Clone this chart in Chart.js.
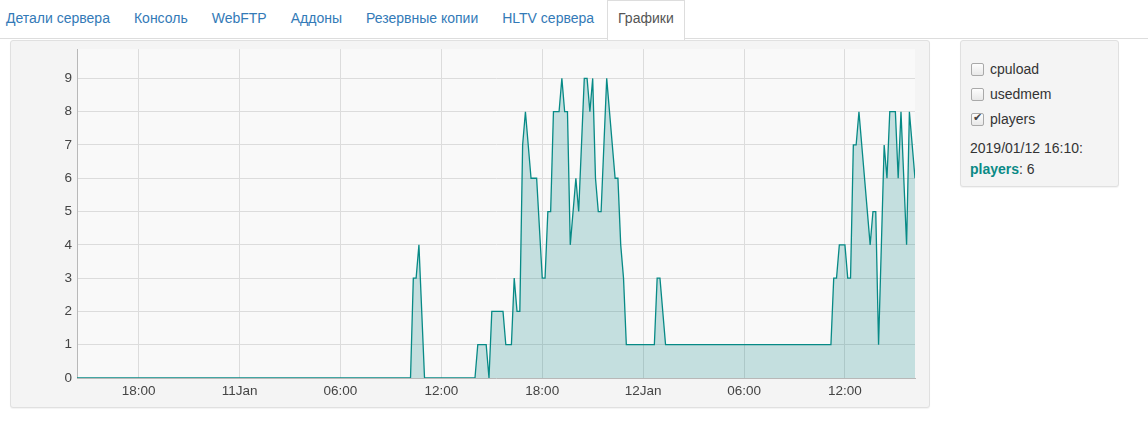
<!DOCTYPE html>
<html>
<head>
<meta charset="UTF-8"/>
<title>Графики</title>
<script src="https://cdn.jsdelivr.net/npm/chart.js@4/dist/chart.umd.min.js"></script>
<style>
 body {
   margin: 0;
   background: #fff;
   font-family: "Liberation Sans", Arial, sans-serif;
   font-size: 14px;
   color: #333;
   width: 1148px;
   height: 441px;
   position: relative;
   overflow: hidden;
 }
 ul.tabs {
   position: absolute;
   left: -5px; top: 0; right: 0;
   margin: 0; padding: 0;
   list-style: none;
   display: flex;
   height: 38px;
   border-bottom: 1px solid #ddd;
 }
 ul.tabs li {
   margin-right: 2px;
   padding: 7px 10px 11px 10px;
   line-height: 20px;
   color: #337ab7;
   border: 1px solid transparent;
   border-bottom: none;
   white-space: nowrap;
 }
 ul.tabs li.active {
   color: #555;
   background: #fff;
   border-color: #ddd;
   height: 20px;
   margin-bottom: -1px;
   padding-bottom: 12px;
 }
 div.panel {
   position: absolute;
   background: #f4f4f4;
   border: 1px solid #e0e0e0;
   border-radius: 3px;
   box-shadow: 0 1px 1px rgba(0,0,0,0.05);
 }
 #graph { left: 10px; top: 40px; width: 918px; height: 366px; }
 #legend { left: 960px; top: 40px; width: 157px; height: 145px; }
 #chart-wrap {
   position: absolute;
   left: 10px; top: 36px;
   width: 920px; height: 372px;
 }
 #legend label {
   position: absolute;
   left: 10px;
   line-height: 20px;
 }
 #legend input {
   -webkit-appearance: none;
   appearance: none;
   width: 13px; height: 13px;
   margin: 0 6px 0 0;
   vertical-align: -2px;
   border: 1px solid #a9a9a9;
   border-radius: 2px;
   background: linear-gradient(#fdfdfd, #e8e8e8);
   position: relative;
 }
 #legend input:checked::after {
   content: "\2714";
   position: absolute;
   left: 1px; top: -3px;
   font-size: 11px;
   color: #444;
 }
 #legend .info {
   position: absolute;
   left: 9px; top: 97px;
   line-height: 21px;
 }
 #legend .info b { color: #0a8a86; }
</style>
</head>
<body>
<ul class="tabs">
  <li>Детали сервера</li>
  <li>Консоль</li>
  <li>WebFTP</li>
  <li>Аддоны</li>
  <li>Резервные копии</li>
  <li>HLTV сервера</li>
  <li class="active">Графики</li>
</ul>

<div class="panel" id="graph"></div>
<div id="chart-wrap"><canvas id="chart-players"></canvas></div>

<div class="panel" id="legend">
  <label style="top:18px"><input type="checkbox"/>cpuload</label>
  <label style="top:43px"><input type="checkbox"/>usedmem</label>
  <label style="top:68px"><input type="checkbox" checked/>players</label>
  <div class="info">2019/01/12 16:10:<br/><b>players</b>: 6</div>
</div>

<script>
 // samples (MM/DD HH:MM), only the points where the line bends
 var times = [
     "01/10 14:20", "01/11 10:10", "01/11 10:20", "01/11 10:30", "01/11 10:40",
     "01/11 11:00", "01/11 14:00", "01/11 14:10", "01/11 14:40", "01/11 14:50",
     "01/11 15:00", "01/11 15:40", "01/11 15:50", "01/11 16:10", "01/11 16:20",
     "01/11 16:30", "01/11 16:40", "01/11 16:50", "01/11 17:00", "01/11 17:20",
     "01/11 17:40", "01/11 18:00", "01/11 18:10", "01/11 18:20", "01/11 18:30",
     "01/11 18:40", "01/11 19:00", "01/11 19:10", "01/11 19:20", "01/11 19:30",
     "01/11 19:40", "01/11 20:00", "01/11 20:10", "01/11 20:30", "01/11 20:40",
     "01/11 20:50", "01/11 21:00", "01/11 21:10", "01/11 21:20", "01/11 21:30",
     "01/11 21:50", "01/11 22:20", "01/11 22:30", "01/11 22:40", "01/11 22:50",
     "01/11 23:00", "01/12 00:40", "01/12 00:50", "01/12 01:00", "01/12 01:20",
     "01/12 11:10", "01/12 11:20", "01/12 11:30", "01/12 11:40", "01/12 12:00",
     "01/12 12:10", "01/12 12:20", "01/12 12:30", "01/12 12:40", "01/12 12:50",
     "01/12 13:30", "01/12 13:40", "01/12 13:50", "01/12 14:00", "01/12 14:20",
     "01/12 14:30", "01/12 14:40", "01/12 15:00", "01/12 15:10", "01/12 15:20",
     "01/12 15:40", "01/12 15:50", "01/12 16:10"
 ];
 var players = [
     0, 0, 3, 3, 4,
     0, 0, 1, 1, 0,
     2, 2, 1, 1, 3,
     2, 2, 7, 8, 6,
     6, 3, 3, 5, 5,
     8, 8, 9, 8, 8,
     4, 6, 5, 9, 9,
     8, 9, 6, 5, 5,
     9, 6, 6, 4, 3,
     1, 1, 3, 3, 1,
     1, 3, 3, 4, 4,
     3, 3, 7, 7, 8,
     4, 5, 5, 1, 7,
     6, 8, 8, 6, 8,
     4, 8, 6
 ];
 var yTicks = [0, 1, 2, 3, 4, 5, 6, 7, 8, 9];

 // hours since 2019/01/10 00:00
 function toHours(s){
     var day = parseInt(s.substr(3, 2), 10);
     var h = parseInt(s.substr(6, 2), 10);
     var m = parseInt(s.substr(9, 2), 10);
     return (day - 10) * 24 + h + m / 60;
 }

 function pad(n){
     return (n < 10 ? "0" : "") + n;
 }

 var points = times.map((t, i) => ({x: toHours(t), y: players[i]}));

 var plotBg = {
     id: "plotBg",
     beforeDraw: function(chart){
         var a = chart.chartArea, ctx = chart.ctx;
         ctx.save();
         ctx.fillStyle = "#f9f9f9";
         ctx.fillRect(a.left, a.top, a.right - a.left, a.bottom - a.top);
         ctx.restore();
     }
 };

 var font = {family: "'Liberation Sans', Arial, sans-serif", size: 13.5};

 new Chart("chart-players", {
     type: "line",
     data: {
         datasets: [{
             label: "players",
             data: points,
             borderColor: "#078a86",
             backgroundColor: "rgba(0, 128, 128, 0.21)",
             borderWidth: 1.3,
             fill: "origin",
             pointRadius: 0,
             tension: 0
         }]
     },
     options: {
         responsive: true,
         maintainAspectRatio: false,
         animation: false,
         layout: {padding: {left: 0, right: 15, top: 5, bottom: 0}},
         plugins: {legend: {display: false}, tooltip: {enabled: false}},
         scales: {
             x: {
                 type: "linear",
                 min: points[0].x,
                 max: points[points.length - 1].x,
                 grid: {color: "#dcdcdc", drawTicks: false},
                 border: {display: true, color: "#b8b8b8"},
                 afterFit: function(s){ s.height = 30; },
                 ticks: {
                     stepSize: 6,
                     includeBounds: false,
                     maxRotation: 0,
                     autoSkip: false,
                     padding: 5,
                     color: "#444",
                     font: font,
                     callback: function(v){
                         if (v % 24 === 0) return (10 + v / 24) + "Jan";
                         return pad(v % 24) + ":00";
                     }
                 }
             },
             y: {
                 min: 0,
                 max: 9.88,
                 grid: {color: "#dcdcdc", drawTicks: false},
                 border: {display: true, color: "#b8b8b8"},
                 afterFit: function(s){ s.width = 67; },
                 afterBuildTicks: function(s){
                     s.ticks = yTicks.map(v => ({value: v}));
                 },
                 ticks: {
                     padding: 5,
                     color: "#444",
                     font: font
                 }
             }
         }
     },
     plugins: [plotBg]
 });
</script>
</body>
</html>
